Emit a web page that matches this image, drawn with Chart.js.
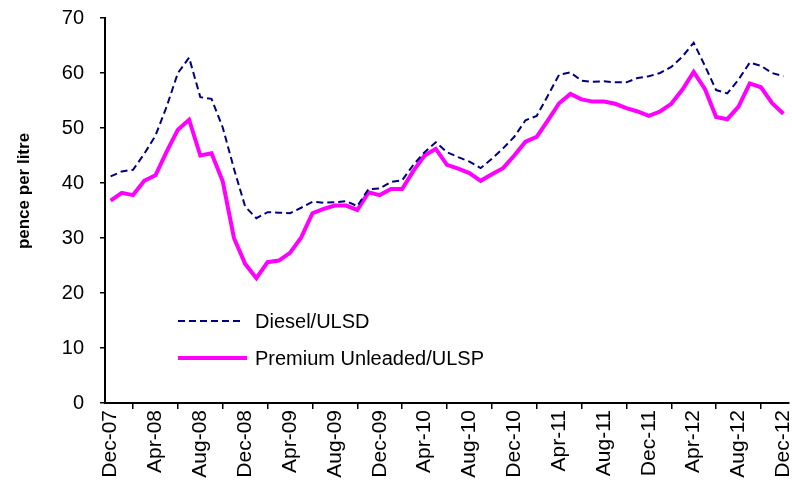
<!DOCTYPE html>
<html>
<head>
<meta charset="utf-8">
<script src="https://cdn.jsdelivr.net/npm/chart.js@4.4.1/dist/chart.umd.min.js"></script>
<style>
  html, body { margin: 0; padding: 0; background: #fff; }
  #wrap { width: 792px; height: 487px; position: relative; }
</style>
</head>
<body>
<div id="wrap"><canvas id="fuelChart" width="792" height="487"></canvas></div>
<script>
// Monthly categories, Dec-07 .. Dec-12
const monthNames = ['Jan', 'Feb', 'Mar', 'Apr', 'May', 'Jun', 'Jul', 'Aug', 'Sep', 'Oct', 'Nov', 'Dec'];
const categories = ['Dec-07'];
for (let yr = 8; yr <= 12; yr++) {
    monthNames.forEach(m => categories.push(m + '-' + String(yr).padStart(2, '0')));
}

const yTicks = [0, 10, 20, 30, 40, 50, 60, 70];

const diesel = [41.2, 42.1, 42.4, 45.3, 48.6, 53.9, 60.0, 62.8, 55.6, 55.3,
    50.1, 42.6, 35.7, 33.6, 34.7, 34.6, 34.5, 35.5, 36.6, 36.4,
    36.5, 36.7, 35.8, 38.9, 39.0, 40.2, 40.5, 43.3, 45.6, 47.4,
    45.6, 44.7, 43.9, 42.7, 44.4, 46.3, 48.4, 51.4, 52.2, 55.9,
    59.7, 60.1, 58.6, 58.4, 58.5, 58.3, 58.3, 59.1, 59.4, 60.0,
    61.1, 63.0, 65.5, 61.3, 56.9, 56.3, 58.8, 61.9, 61.3, 60.0, 59.4];

const premium = [36.8, 38.2, 37.8, 40.4, 41.4, 45.7, 49.7, 51.5, 45.0, 45.4,
    40.3, 30.0, 25.3, 22.7, 25.6, 25.9, 27.3, 30.1, 34.5, 35.3,
    35.9, 35.9, 35.1, 38.3, 37.8, 38.9, 38.9, 42.2, 45.0, 46.2,
    43.3, 42.6, 41.8, 40.4, 41.6, 42.7, 45.0, 47.5, 48.4, 51.4,
    54.5, 56.2, 55.2, 54.8, 54.8, 54.4, 53.6, 53.0, 52.2, 53.0,
    54.4, 57.0, 60.2, 57.1, 52.0, 51.6, 53.9, 58.1, 57.4, 54.5, 52.6];

const FONT = '"Liberation Sans", Arial, sans-serif';

// y title + legend drawn inside the plot like the original
const extras = {
    id: 'extras',
    afterDraw(chart) {
        const ctx = chart.ctx;
        ctx.save();
        // axis title
        ctx.translate(24, 191);
        ctx.rotate(-Math.PI / 2);
        ctx.font = 'bold 17px ' + FONT;
        ctx.fillStyle = '#000';
        ctx.textAlign = 'center';
        ctx.textBaseline = 'middle';
        ctx.fillText('pence per litre', 0, 0);
        ctx.restore();

        // legend
        const items = [
            { label: 'Diesel/ULSD', color: '#000080', width: 2, dash: [7, 4], y: 321, x2: 242 },
            { label: 'Premium Unleaded/ULSP', color: '#ff00ff', width: 4, dash: [], y: 358, x2: 247 }
        ];
        ctx.save();
        ctx.font = '20px ' + FONT;
        ctx.textBaseline = 'middle';
        items.forEach(it => {
            ctx.beginPath();
            ctx.setLineDash(it.dash);
            ctx.strokeStyle = it.color;
            ctx.lineWidth = it.width;
            ctx.moveTo(178, it.y);
            ctx.lineTo(it.x2, it.y);
            ctx.stroke();
            ctx.setLineDash([]);
            ctx.fillStyle = '#000';
            ctx.fillText(it.label, 255, it.y + 1);
        });
        ctx.restore();
    }
};

new Chart(document.getElementById('fuelChart'), {
    type: 'line',
    data: {
        labels: categories,
        datasets: [{
            label: 'Diesel/ULSD',
            data: diesel,
            borderColor: '#000080',
            borderWidth: 2,
            borderDash: [7, 4],
            pointRadius: 0,
            tension: 0
        }, {
            label: 'Premium Unleaded/ULSP',
            data: premium,
            borderColor: '#ff00ff',
            borderWidth: 4,
            pointRadius: 0,
            tension: 0
        }]
    },
    options: {
        responsive: false,
        animation: false,
        devicePixelRatio: 1,
        layout: { padding: { top: 18, right: 3, left: 0, bottom: 0 } },
        plugins: {
            legend: { display: false },
            tooltip: { enabled: false }
        },
        scales: {
            x: {
                offset: true,
                grid: { offset: true, drawOnChartArea: false, color: '#000', tickLength: 6, lineWidth: 1.5 },
                border: { color: '#000', width: 2 },
                ticks: {
                    autoSkip: false,
                    maxRotation: 90,
                    minRotation: 90,
                    padding: 1,
                    color: '#000',
                    font: { family: FONT, size: 21 },
                    callback: function(value, index) {
                        return index % 4 === 0 ? categories[index] : null;
                    }
                },
                afterFit: s => { s.height = 84; s.paddingLeft = 0; s.paddingRight = 0; }
            },
            y: {
                min: 0,
                max: 70,
                afterBuildTicks: s => { s.ticks = yTicks.map(v => ({ value: v })); },
                grid: { drawOnChartArea: false, color: '#000', tickLength: 5, lineWidth: 1.5 },
                border: { color: '#000', width: 2 },
                ticks: {
                    padding: 16,
                    color: '#000',
                    font: { family: FONT, size: 20 }
                },
                afterFit: s => { s.width = 105; s.paddingTop = 0; s.paddingBottom = 0; }
            }
        }
    },
    plugins: [extras]
});
</script>
</body>
</html>
